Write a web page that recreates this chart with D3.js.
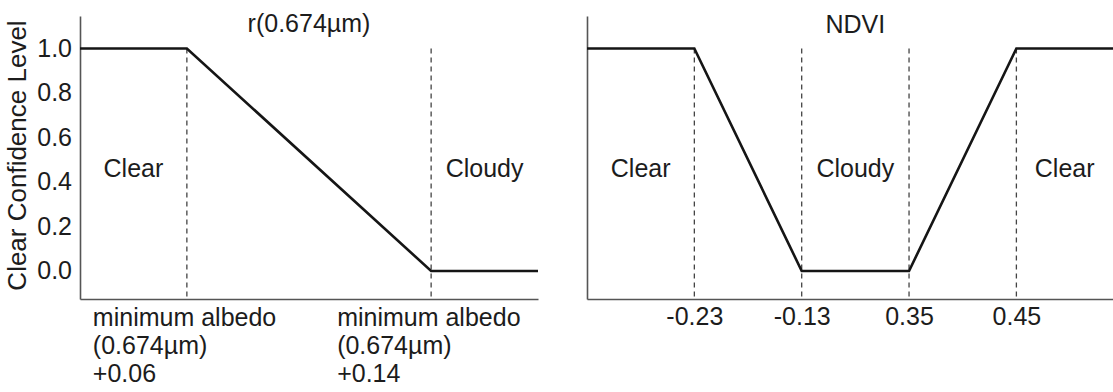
<!DOCTYPE html>
<html>
<head>
<meta charset="utf-8">
<script src="https://cdn.jsdelivr.net/npm/d3@7"></script>
<style>
  body { margin: 0; background: #fff; }
  svg { display: block; font-family: "Liberation Sans", Arial, sans-serif; }
  .curve { fill: none; stroke: #151515; stroke-width: 2.6; stroke-linejoin: miter; }
  .guide { stroke: #444; stroke-width: 1.3; stroke-dasharray: 5,4; }
  .domain { stroke: #555; stroke-width: 1.6; }
  text { fill: #1c1c1c; }
</style>
</head>
<body>
<svg id="canvas" width="1113" height="392"></svg>
<script>
// y values shared by both panels
const yTicks = [0, 0.2, 0.4, 0.6, 0.8, 1.0];
const yLabel = "Clear Confidence Level";

// left panel: reflectance at 0.674um (offset above minimum albedo)
const albedoTitle = "r(0.674\u00b5m)";
const albedoBreaks = [0.06, 0.14];
const albedoBreakLabels = [
    ["minimum albedo", "(0.674\u00b5m)", "+0.06"],
    ["minimum albedo", "(0.674\u00b5m)", "+0.14"]
];
const albedoCurveX = [0.025, 0.06, 0.14, 0.175];
const albedoCurveY = [1, 1, 0, 0];
const albedoRegions = ["Clear", "Cloudy"];

// right panel: NDVI, breakpoints drawn evenly spaced
const ndviTitle = "NDVI";
const ndviBreaks = ["-0.23", "-0.13", "0.35", "0.45"];
const ndviCurveY = [1, 1, 0, 0, 1, 1];
const ndviRegions = ["Clear", "Cloudy", "Clear"];

const fs = 25;
const svg = d3.select("#canvas");

const y = d3.scaleLinear().domain([-0.126, 1.146]).range([299, 16]);

const line = d3.line().x(d => d[0]).y(d => y(d[1])).curve(d3.curveLinear);

// ---------- left panel ----------
const xA = d3.scaleLinear().domain([0.025, 0.175]).range([80, 538]);

const left = svg.append("g");

left.append("g")
    .attr("transform", `translate(${xA.range()[0]},0)`)
    .call(d3.axisLeft(y).tickValues(yTicks).tickSize(0).tickSizeOuter(0).tickPadding(8).tickFormat(d3.format(".1f")))
    .call(g => g.selectAll("text").attr("font-size", fs).attr("fill", "#1c1c1c").attr("font-family", null));

left.append("g")
    .attr("transform", `translate(0,${y.range()[0]})`)
    .call(d3.axisBottom(xA).tickValues([]).tickSizeOuter(0));

left.selectAll("line.guide")
    .data(albedoBreaks)
    .enter()
    .append("line")
    .attr("class", "guide")
    .attr("x1", d => xA(d)).attr("x2", d => xA(d))
    .attr("y1", y(1)).attr("y2", y.range()[0]);

left.append("path")
    .attr("class", "curve")
    .attr("d", line(albedoCurveX.map((v, i) => [xA(v), albedoCurveY[i]])));

const albedoEdges = [xA.domain()[0], ...albedoBreaks, xA.domain()[1]];
left.selectAll("text.region")
    .data(albedoRegions)
    .enter()
    .append("text")
    .attr("class", "region")
    .attr("x", (d, i) => i === 0 ? (xA(albedoEdges[0]) + xA(albedoEdges[1])) / 2 : (xA(albedoEdges[2]) + xA(albedoEdges[3])) / 2)
    .attr("y", 177)
    .attr("text-anchor", "middle")
    .attr("font-size", fs)
    .text(d => d);

left.append("text")
    .attr("x", (xA(albedoBreaks[0]) + xA(albedoBreaks[1])) / 2)
    .attr("y", 32)
    .attr("text-anchor", "middle")
    .attr("font-size", fs)
    .text(albedoTitle);

left.selectAll("g.breaklabel")
    .data(albedoBreakLabels)
    .enter()
    .append("text")
    .attr("class", "breaklabel")
    .attr("font-size", fs)
    .attr("x", (d, i) => xA(albedoBreaks[i]) - 94)
    .attr("y", 326)
    .selectAll("tspan")
    .data(d => d)
    .enter()
    .append("tspan")
    .attr("x", function () { return this.parentNode.getAttribute("x"); })
    .attr("dy", (d, i) => i === 0 ? 0 : 28)
    .text(d => d);

// y axis title
svg.append("text")
    .attr("transform", `translate(26,${(y(-0.126) + y(1.146)) / 2 - 2}) rotate(-90)`)
    .attr("text-anchor", "middle")
    .attr("font-size", 26)
    .text(yLabel);

// ---------- right panel ----------
const xN = d3.scaleLinear().domain([0, 4.9]).range([587, 1113]);
const ndviPos = ndviBreaks.map((d, i) => i + 1);

const right = svg.append("g");

right.append("g")
    .attr("transform", `translate(${xN.range()[0]},0)`)
    .call(d3.axisLeft(y).tickValues([]).tickSizeOuter(0));

right.append("g")
    .attr("transform", `translate(0,${y.range()[0]})`)
    .call(d3.axisBottom(xN).tickValues(ndviPos).tickSize(0).tickSizeOuter(0).tickPadding(8)
        .tickFormat((d, i) => ndviBreaks[i]))
    .call(g => g.selectAll("text").attr("font-size", fs).attr("fill", "#1c1c1c").attr("font-family", null));

right.selectAll("line.guide")
    .data(ndviPos)
    .enter()
    .append("line")
    .attr("class", "guide")
    .attr("x1", d => xN(d)).attr("x2", d => xN(d))
    .attr("y1", y(1)).attr("y2", y.range()[0]);

const ndviCurveX = [xN.domain()[0], ...ndviPos, xN.domain()[1]];
right.append("path")
    .attr("class", "curve")
    .attr("d", line(ndviCurveX.map((v, i) => [xN(v), ndviCurveY[i]])));

const ndviRegionSpans = [[0, 1], [2, 3], [4, 4.9]];
right.selectAll("text.region")
    .data(ndviRegions)
    .enter()
    .append("text")
    .attr("class", "region")
    .attr("x", (d, i) => (xN(ndviRegionSpans[i][0]) + xN(ndviRegionSpans[i][1])) / 2)
    .attr("y", 177)
    .attr("text-anchor", "middle")
    .attr("font-size", fs)
    .text(d => d);

right.append("text")
    .attr("x", (xN(2) + xN(3)) / 2)
    .attr("y", 33)
    .attr("text-anchor", "middle")
    .attr("font-size", fs)
    .text(ndviTitle);
</script>
</body>
</html>
